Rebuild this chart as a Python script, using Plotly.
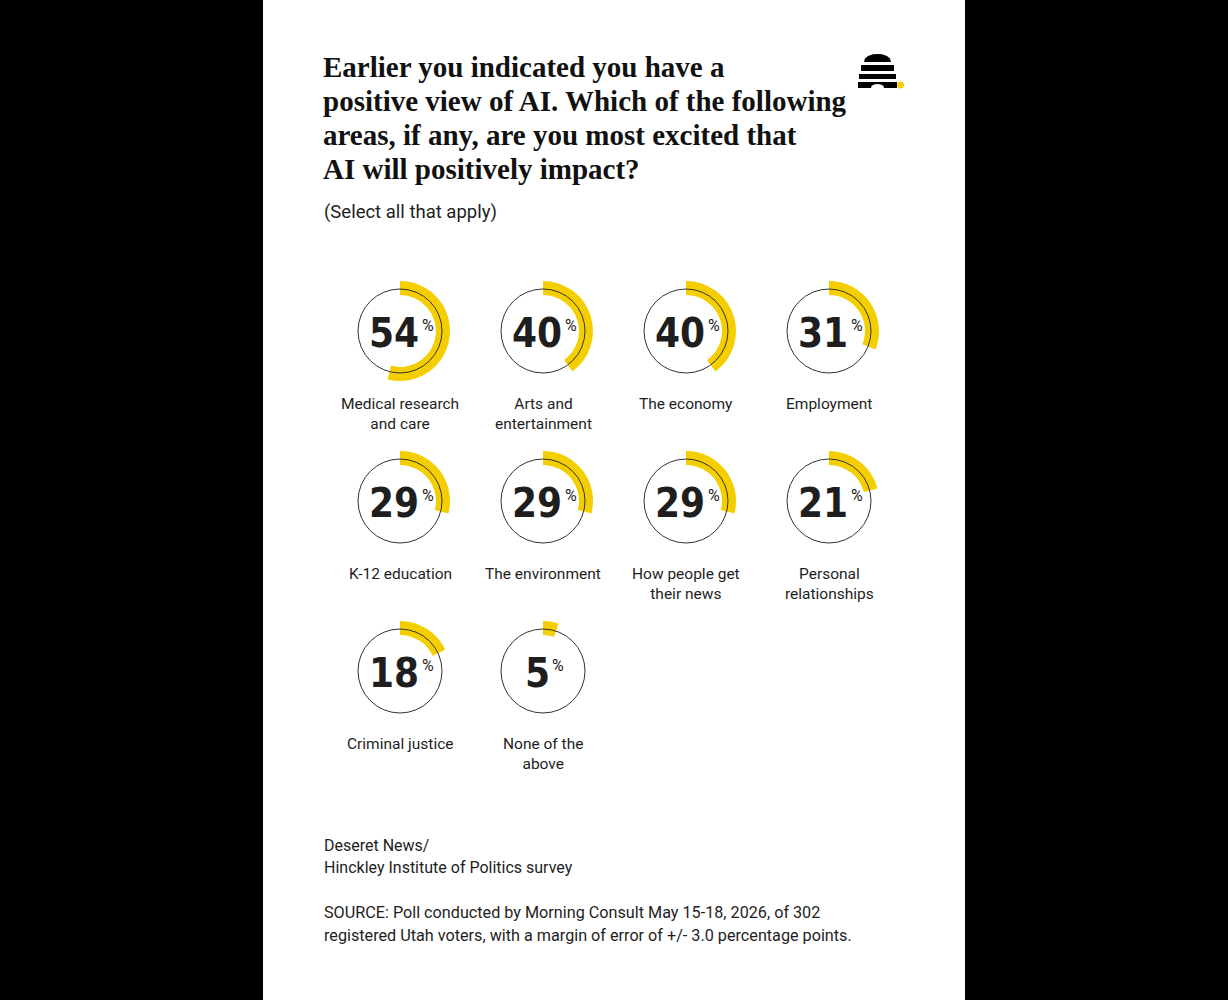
import plotly.graph_objects as go

# ---- data ----
categories = [
    "Medical research<br>and care", "Arts and<br>entertainment", "The economy", "Employment",
    "K-12 education", "The environment", "How people get<br>their news", "Personal<br>relationships",
    "Criminal justice", "None of the<br>above",
]
values = [54, 40, 40, 31, 29, 29, 29, 21, 18, 5]

title_lines = [
    "Earlier you indicated you have a",
    "positive view of AI. Which of the following",
    "areas, if any, are you most excited that",
    "AI will positively impact?",
]
subtitle = "(Select all that apply)"
credit_lines = ["Deseret News/", "Hinckley Institute of Politics survey"]
source_lines = [
    "SOURCE: Poll conducted by Morning Consult May 15-18, 2026, of 302",
    "registered Utah voters, with a margin of error of +/- 3.0 percentage points.",
]

# ---- layout constants (pixels) ----
W, H = 1228, 1000
YELLOW = "#F5CE00"
INK = "#1e1e1e"
NCOLS = 4
X0, DX = 400, 143
Y0, DY = 331, 170
R_OUT, R_IN, R_CIRC = 50, 36, 42

NUM_FONT = "DejaVu Sans Condensed, sans-serif"
NUM_SIZE = 40
DIGIT_W = 0.626 * NUM_SIZE
PCT_SIZE = 16
PCT_W = 11
PCT_GAP = 4
LBL_FONT = "Roboto, sans-serif"
SANS = "Roboto, Liberation Sans, sans-serif"
SERIF = "Liberation Serif, Times New Roman, serif"


def px(x):
    return x / W


def py(y):
    return 1 - y / H


fig = go.Figure()
shapes = []
annotations = []


def text_at(x, y, text, family, size, color=INK, xanchor="left", yanchor="middle", align="left"):
    annotations.append(dict(x=px(x), y=py(y), xref="paper", yref="paper", xanchor=xanchor,
                            yanchor=yanchor, align=align, showarrow=False, text=text,
                            font=dict(family=family, size=size, color=color)))


# white page panel
shapes.append(dict(type="rect", xref="paper", yref="paper", x0=px(263), x1=px(965),
                   y0=0, y1=1, fillcolor="white", line=dict(width=0), layer="below"))

for i, (cat, v) in enumerate(zip(categories, values)):
    col, row = i % NCOLS, i // NCOLS
    cx, cy = X0 + col * DX, Y0 + row * DY
    fig.add_trace(go.Pie(
        values=[v, 100 - v],
        marker=dict(colors=[YELLOW, "rgba(0,0,0,0)"], line=dict(width=0)),
        hole=R_IN / R_OUT, sort=False, direction="clockwise", rotation=0,
        textinfo="none", hoverinfo="skip", showlegend=False,
        domain=dict(x=[px(cx - R_OUT), px(cx + R_OUT)], y=[py(cy + R_OUT), py(cy - R_OUT)]),
    ))
    shapes.append(dict(type="circle", xref="paper", yref="paper",
                       x0=px(cx - R_CIRC), x1=px(cx + R_CIRC),
                       y0=py(cy + R_CIRC), y1=py(cy - R_CIRC),
                       line=dict(color="#333333", width=1), layer="above"))
    num = str(v)
    num_w = len(num) * DIGIT_W
    group_w = num_w + PCT_GAP + PCT_W
    left = cx - group_w / 2
    text_at(left, cy + 2, f"<b>{num}</b>", NUM_FONT, NUM_SIZE, xanchor="left")
    text_at(left + num_w + PCT_GAP - 2, cy - 17, "%", SANS, PCT_SIZE, xanchor="left", yanchor="top")
    text_at(cx, cy + 62, cat, LBL_FONT, 15.5, xanchor="center", yanchor="top", align="center")

# title, one line at a time
for k, line in enumerate(title_lines):
    text_at(321, 67 + 34 * k, f"<b>{line}</b>", SERIF, 29, color="#111111")
text_at(322, 212, subtitle, SANS, 18.5)
for k, line in enumerate(credit_lines):
    text_at(322, 845 + 22.5 * k, line, SANS, 16)
for k, line in enumerate(source_lines):
    text_at(322, 912 + 23 * k, line, SANS, 16.2)

# logo (beehive)
def path_px(pts, close=True):
    s = "M " + " L ".join(f"{px(x)},{py(y)}" for x, y in pts)
    return s + (" Z" if close else "")

shapes.append(dict(type="path", xref="paper", yref="paper", line=dict(width=0), fillcolor="black",
                   path=path_px([(864, 62), (865, 58.5), (868, 56), (873, 54.3), (877.5, 54),
                                 (882, 54.3), (887, 56), (890, 58.5), (891, 62)])))
shapes.append(dict(type="rect", xref="paper", yref="paper", line=dict(width=0), fillcolor="black",
                   x0=px(861), x1=px(894), y0=py(71), y1=py(65)))
shapes.append(dict(type="rect", xref="paper", yref="paper", line=dict(width=0), fillcolor="black",
                   x0=px(859), x1=px(896), y0=py(79), y1=py(74)))
shapes.append(dict(type="path", xref="paper", yref="paper", line=dict(width=0), fillcolor="black",
                   path=path_px([(858, 82), (897, 82), (897, 88), (884, 88), (883.5, 86),
                                 (881, 84.5), (877.5, 84), (874, 84.5), (871.5, 86), (871, 88),
                                 (858, 88)])))
shapes.append(dict(type="circle", xref="paper", yref="paper", line=dict(width=0), fillcolor=YELLOW,
                   x0=px(897), x1=px(904), y0=py(88.5), y1=py(81.5)))

fig.update_layout(
    width=W, height=H, autosize=False,
    margin=dict(l=0, r=0, t=0, b=0),
    paper_bgcolor="black", plot_bgcolor="black",
    shapes=shapes, annotations=annotations,
)

fig.write_html("out.html", config={"displayModeBar": False},
               post_script="document.body.style.margin='0';")
